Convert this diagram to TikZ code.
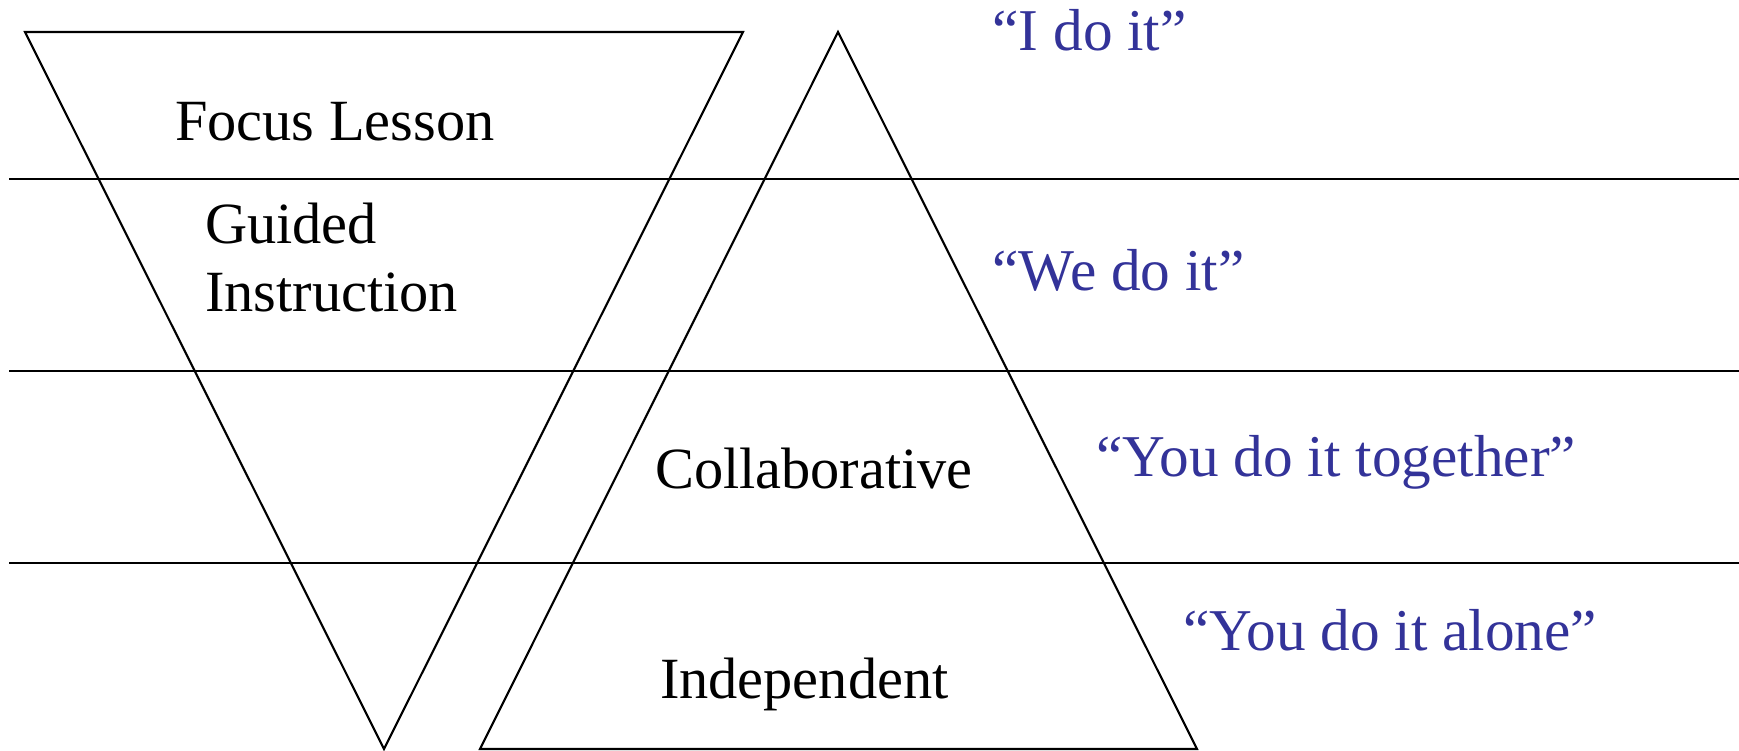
\documentclass[tikz,border=0pt]{standalone}
\usepackage{fontspec}
\setmainfont{Liberation Serif}
\usepackage{tikz}
\definecolor{sayblue}{RGB}{51,51,153}

\begin{document}
\begin{tikzpicture}[x=0.01cm, y=-0.01cm, line width=0.6pt,
        stage/.style={anchor=base west, inner sep=0pt, font=\fontsize{16.6}{19.2}\selectfont},
        saying/.style={stage, text=sayblue, font=\fontsize{16.85}{19.2}\selectfont}]
    \useasboundingbox (0,0) rectangle (1739,750);

    % the four bands
    \foreach \y in {179,371,563}
        \draw (9,\y) -- (1739,\y);

    % teacher: point down
    \coordinate (tleft) at (25,32);
    \coordinate (tright) at (743,32);
    \coordinate (tpoint) at (384,749);
    \draw (tleft) -- (tright) -- (tpoint) -- cycle;

    % student: point up
    \coordinate (sapex) at (838,32);
    \coordinate (sleft) at (480,749);
    \coordinate (sright) at (1197,749);
    \draw (sapex) -- (sright) -- (sleft) -- cycle;

    \node (focus) [stage] at (174,140.7) {Focus Lesson};
    \node (guided) [stage, anchor=north west, align=left] at (204,202) {Guided\\Instruction};
    \node (collab) [stage] at (654,488.3) {Collaborative};
    \node (indep) [stage] at (659,698.3) {Independent};

    \node (ido) [saying] at (991.5,50.7) {“I do it”};
    \node (wedo) [saying] at (991.5,290.7) {“We do it”};
    \node (together) [saying] at (1095.5,476.7) {“You do it together”};
    \node (alone) [saying] at (1182.5,650) {“You do it alone”};
\end{tikzpicture}
\end{document}
